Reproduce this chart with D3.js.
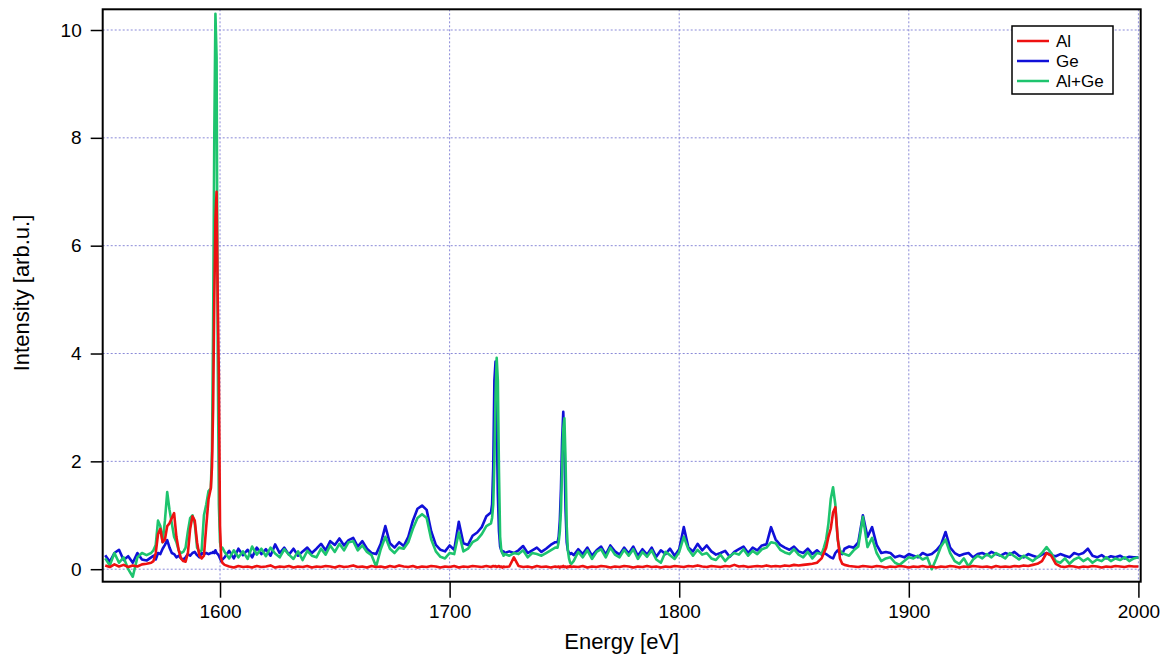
<!DOCTYPE html>
<html><head><meta charset="utf-8">
<script src="https://cdn.jsdelivr.net/npm/d3@7"></script>
<style>body{margin:0;background:#fff} svg{display:block}</style>
</head><body><svg id="c" width="1167" height="657"></svg>
<script>
// ---------------- DATA ----------------
const energy = [
  // S1
  1550,1552,1554,1556,1558,1560,1562,1564,1566,1568,
  // S2
  1570,1571,1572,1573,1574,1575,1576,1577,1578,1579,1580,1581,1582,1583,1584,1585,1586,1587,1588,1589,1590,1591,1592,1593,1594,1595,
  // S3
  1596,1596.5,1597,1597.5,1598,1598.5,1599,1599.5,1600,1600.5,1601,
  // S4
  1602,1604,1606,1608,1610,1612,1614,1616,1618,1620,
  1622,1624,1626,1628,1630,1632,1634,1636,1638,1640,
  1642,1644,1646,1648,1650,1652,1654,1656,1658,1660,
  1662,1664,1666,1668,1670,1672,1674,1676,1678,1680,
  1682,1684,1686,1688,1690,1692,1694,1696,1698,1700,
  1702,1704,1706,1708,1710,1712,1714,1716,
  // S5
  1718,1718.5,1719,1719.5,1720,1720.5,1721,1721.5,1722,1722.5,1723,1723.5,1724,
  // S6
  1726,1728,1730,1732,1734,1736,1738,1740,1742,1744,1746,
  // S7
  1747,1747.5,1748,1748.5,1749,1749.5,1750,1750.5,1751,1751.5,1752,1752.5,1753,
  // S8
  1754,1756,1758,1760,1762,1764,1766,1768,1770,1772,
  1774,1776,1778,1780,1782,1784,1786,1788,1790,1792,
  1794,1796,1798,1800,1802,1804,1806,1808,1810,1812,
  1814,1816,1818,1820,1822,1824,1826,1828,1830,1832,
  1834,1836,1838,1840,1842,1844,1846,1848,1850,1852,
  1854,1856,1858,1860,1862,
  // S9
  1863,1864,1865,1866,1867,1868,1869,1870,1871,
  // S10
  1872,1874,1876,1878,1880,1882,1884,1886,1888,1890,
  1892,1894,1896,1898,1900,1902,1904,1906,1908,1910,
  1912,1914,1916,1918,1920,1922,1924,1926,1928,1930,
  1932,1934,1936,1938,1940,1942,1944,1946,1948,1950,
  1952,1954,1956,1958,1960,1962,1964,1966,1968,1970,
  1972,1974,1976,1978,1980,1982,1984,1986,1988,1990,
  1992,1994,1996,1998,2000
];

const intensityAl = [
  // S1
  0.07,0.04,0.09,0.05,0.08,0.04,0.07,0.05,0.09,0.10,
  // S2
  0.12,0.15,0.30,0.65,0.75,0.50,0.55,0.80,0.85,0.95, 1.04,0.60,0.35,0.20,0.15,0.14,0.30,0.75,0.98,0.90, 0.50,0.25,0.20,0.25,0.80,1.30,
  // S3
  1.50,1.90,3.00,5.00,6.50,7.00,5.00,3.60,0.80,0.20,0.12,
  // S4
  0.08,0.05,0.03,0.06,0.04,0.05,0.03,0.06,0.04,0.05,
  0.07,0.03,0.05,0.04,0.06,0.03,0.05,0.04,0.06,0.03,
  0.05,0.04,0.06,0.05,0.03,0.06,0.04,0.05,0.07,0.04,
  0.05,0.03,0.06,0.04,0.05,0.03,0.06,0.04,0.07,0.05,
  0.04,0.06,0.03,0.05,0.04,0.06,0.05,0.03,0.05,0.04,
  0.06,0.03,0.05,0.04,0.06,0.05,0.04,0.06,
  // S5
  0.04,0.05,0.06,0.05,0.06,0.04,0.05,0.06,0.04,0.05,0.03,0.05,0.04,
  // S6
  0.05,0.22,0.06,0.04,0.05,0.03,0.06,0.04,0.05,0.03,0.05,
  // S7
  0.04,0.05,0.03,0.05,0.04,0.06,0.04,0.05,0.03,0.05,0.04,0.06,0.04,
  // S8
  0.05,0.04,0.06,0.03,0.05,0.04,0.06,0.05,0.03,0.05,
  0.04,0.06,0.05,0.03,0.05,0.04,0.06,0.04,0.05,0.03,
  0.05,0.04,0.06,0.05,0.04,0.06,0.05,0.07,0.05,0.04,
  0.06,0.05,0.04,0.06,0.05,0.08,0.05,0.06,0.04,0.05,
  0.06,0.05,0.07,0.05,0.06,0.05,0.07,0.06,0.08,0.07,
  0.08,0.09,0.10,0.12,0.20,
  // S9
  0.30,0.40,0.60,0.75,1.05,1.15,0.60,0.20,0.10,
  // S10
  0.08,0.06,0.05,0.04,0.06,0.05,0.04,0.06,0.05,0.03,
  0.05,0.04,0.06,0.05,0.03,0.05,0.04,0.06,0.04,0.05,
  0.03,0.05,0.04,0.06,0.05,0.03,0.05,0.04,0.06,0.05,
  0.04,0.05,0.03,0.06,0.04,0.05,0.04,0.06,0.05,0.07,
  0.06,0.08,0.10,0.15,0.30,0.25,0.10,0.05,0.04,0.06,
  0.05,0.03,0.05,0.04,0.06,0.05,0.03,0.05,0.04,0.06,
  0.05,0.04,0.06,0.05,0.05
];

const intensityGe = [
  // S1
  0.26,0.14,0.30,0.36,0.17,0.24,0.12,0.30,0.18,0.16,
  // S2
  0.22,0.25,0.18,0.30,0.28,0.38,0.45,0.54,0.40,0.30, 0.28,0.22,0.25,0.20,0.18,0.22,0.28,0.25,0.30,0.32, 0.26,0.22,0.30,0.28,0.30,0.28,
  // S3
  0.30,0.30,0.32,0.30,0.35,0.30,0.28,0.25,0.20,0.15,0.18,
  // S4
  0.22,0.34,0.20,0.38,0.26,0.36,0.22,0.40,0.28,0.37,
  0.25,0.46,0.30,0.40,0.27,0.38,0.25,0.33,0.40,0.30,
  0.38,0.47,0.35,0.52,0.45,0.57,0.44,0.54,0.58,0.42,
  0.52,0.38,0.30,0.28,0.47,0.80,0.48,0.40,0.50,0.43,
  0.60,0.90,1.12,1.18,1.10,0.70,0.45,0.36,0.33,0.44,
  0.36,0.88,0.48,0.45,0.62,0.68,0.78,0.98,
  // S5
  1.05,1.20,1.90,3.50,3.85,2.80,1.40,0.70,0.42,0.35,0.30,0.33,0.30,
  // S6
  0.33,0.30,0.35,0.43,0.30,0.35,0.40,0.32,0.38,0.45,0.50,
  // S7
  0.50,0.60,0.90,1.50,2.40,2.92,2.20,1.10,0.50,0.35,0.30,0.28,0.30,
  // S8
  0.26,0.37,0.28,0.40,0.25,0.35,0.42,0.27,0.44,0.33,
  0.27,0.40,0.29,0.42,0.25,0.37,0.27,0.40,0.23,0.35,
  0.28,0.38,0.25,0.37,0.78,0.40,0.33,0.47,0.35,0.44,
  0.33,0.27,0.30,0.34,0.23,0.32,0.37,0.42,0.30,0.40,
  0.35,0.44,0.46,0.78,0.55,0.45,0.40,0.36,0.42,0.33,
  0.30,0.38,0.28,0.35,0.27,
  // S9
  0.30,0.28,0.25,0.22,0.20,0.30,0.35,0.30,0.28,
  // S10
  0.38,0.42,0.40,0.50,1.00,0.60,0.78,0.45,0.30,0.32,
  0.30,0.22,0.25,0.22,0.28,0.25,0.22,0.30,0.26,0.28,
  0.35,0.45,0.69,0.40,0.30,0.25,0.28,0.30,0.22,0.28,
  0.30,0.26,0.32,0.28,0.25,0.30,0.27,0.32,0.25,0.22,
  0.28,0.25,0.22,0.27,0.30,0.26,0.24,0.28,0.25,0.22,
  0.30,0.27,0.30,0.38,0.25,0.22,0.26,0.20,0.24,0.22,
  0.25,0.20,0.23,0.22,0.22
];

const intensityAlGe = [
  // S1
  0.20,0.07,0.30,0.12,0.22,0.00,-0.14,0.22,0.30,0.26,
  // S2
  0.30,0.35,0.45,0.90,0.80,0.50,0.90,1.43,1.10,0.85, 0.60,0.50,0.35,0.30,0.32,0.40,0.70,0.95,1.00,0.85, 0.40,0.32,0.35,1.00,1.20,1.45,
  // S3
  1.50,2.20,4.50,8.00,10.30,9.50,4.00,1.20,0.50,0.38,0.40,
  // S4
  0.32,0.20,0.35,0.22,0.33,0.19,0.42,0.27,0.38,0.24,
  0.40,0.29,0.22,0.37,0.27,0.19,0.33,0.17,0.34,0.25,
  0.22,0.38,0.27,0.44,0.32,0.47,0.35,0.50,0.52,0.35,
  0.44,0.32,0.26,0.05,0.37,0.60,0.38,0.30,0.40,0.38,
  0.50,0.75,0.95,1.02,0.95,0.55,0.33,0.23,0.20,0.30,
  0.28,0.68,0.33,0.38,0.50,0.55,0.65,0.80,
  // S5
  0.85,0.95,1.20,2.00,3.20,3.92,3.50,1.80,0.60,0.35,0.30,0.25,0.28,
  // S6
  0.25,0.30,0.28,0.35,0.22,0.30,0.28,0.25,0.30,0.35,0.40,
  // S7
  0.40,0.50,0.70,1.10,1.90,2.60,2.80,2.00,0.80,0.35,0.20,0.12,0.10,
  // S8
  0.15,0.32,0.22,0.35,0.19,0.32,0.37,0.22,0.40,0.27,
  0.22,0.36,0.25,0.37,0.19,0.32,0.23,0.35,0.18,0.12,
  0.32,0.26,0.19,0.32,0.60,0.37,0.25,0.36,0.27,0.30,
  0.20,0.17,0.27,0.15,0.24,0.30,0.27,0.37,0.25,0.34,
  0.28,0.37,0.40,0.50,0.48,0.36,0.31,0.28,0.37,0.27,
  0.22,0.32,0.20,0.30,0.28,
  // S9
  0.40,0.55,0.85,1.30,1.52,1.20,0.55,0.35,0.30,
  // S10
  0.28,0.25,0.35,0.42,0.97,0.41,0.58,0.30,0.15,0.20,
  0.22,0.12,0.08,0.15,0.22,0.20,0.25,0.18,0.22,0.00,
  0.20,0.42,0.55,0.30,0.15,0.10,0.20,0.05,0.18,0.25,
  0.20,0.28,0.22,0.30,0.25,0.20,0.30,0.24,0.18,0.25,
  0.20,0.15,0.22,0.30,0.41,0.30,0.15,0.12,0.20,0.10,
  0.18,0.22,0.15,0.20,0.12,0.18,0.15,0.22,0.15,0.20,
  0.17,0.22,0.15,0.20,0.22
];

const seriesNames = ["Al", "Ge", "Al+Ge"];
const seriesColors = ["#ee1111", "#1010d8", "#1ec46e"];
const xTicks = [1600, 1700, 1800, 1900, 2000];
const yTicks = [0, 2, 4, 6, 8, 10];
const xTitle = "Energy [eV]";
const yTitle = "Intensity [arb.u.]";

// ---------------- CHART ----------------
const FONT = "'Liberation Sans', Arial, sans-serif";
const svg = d3.select("#c");
const L = 102.7, R = 1140.7, T = 9.3, B = 581.7;

const x = d3.scaleLinear().domain([1548.9, 2001]).range([L, R]);
const y = d3.scaleLinear().domain([-0.232, 10.384]).range([B, T]);

[intensityAl, intensityGe, intensityAlGe].forEach((a, i) => {
  if (a.length !== energy.length) console.error("length mismatch", seriesNames[i], a.length, energy.length);
});

svg.append("rect").attr("width", 1167).attr("height", 657).attr("fill", "#fff");

// grid
const grid = svg.append("g");
grid.selectAll(".gx").data(xTicks).join("line")
  .attr("x1", d => x(d)).attr("x2", d => x(d)).attr("y1", T).attr("y2", B)
  .attr("stroke", "#8a8ad8").attr("stroke-width", 1).attr("stroke-dasharray", "2,2");
grid.selectAll(".gy").data(yTicks).join("line")
  .attr("y1", d => y(d)).attr("y2", d => y(d)).attr("x1", L).attr("x2", R)
  .attr("stroke", "#8a8ad8").attr("stroke-width", 1).attr("stroke-dasharray", "2,2");

// lines
svg.append("defs").append("clipPath").attr("id", "clip")
  .append("rect").attr("x", L).attr("y", T).attr("width", R - L).attr("height", B - T);

const seriesData = [intensityAl, intensityGe, intensityAlGe];
const lineGen = d3.line().x(d => x(d[0])).y(d => y(d[1]));
const drawOrder = [1, 2, 0];
const lines = svg.append("g").attr("clip-path", "url(#clip)");
drawOrder.forEach(i => {
  const pts = energy.map((e, k) => [e, seriesData[i][k]]).filter(p => p[1] !== undefined);
  lines.append("path").datum(pts)
    .attr("d", lineGen)
    .attr("fill", "none")
    .attr("stroke", seriesColors[i])
    .attr("stroke-width", 2.6)
    .attr("stroke-linejoin", "round");
});

// frame
svg.append("rect").attr("x", L).attr("y", T).attr("width", R - L).attr("height", B - T)
  .attr("fill", "none").attr("stroke", "#000").attr("stroke-width", 2);

// axes
const xAxis = svg.append("g").attr("transform", `translate(0,${B})`)
  .call(d3.axisBottom(x).tickValues(xTicks).tickSize(16).tickPadding(7).tickFormat(d3.format("d")));
const yAxis = svg.append("g").attr("transform", `translate(${L},0)`)
  .call(d3.axisLeft(y).tickValues(yTicks).tickSize(12).tickPadding(9).tickFormat(d3.format("d")));
[xAxis, yAxis].forEach(a => {
  a.select(".domain").remove();
  a.selectAll("line").attr("stroke", "#000").attr("stroke-width", 1.5);
  a.selectAll("text").attr("font-family", FONT).attr("font-size", 19).attr("fill", "#000");
});

// titles
svg.append("text").attr("x", (L + R) / 2).attr("y", 649).attr("text-anchor", "middle")
  .attr("font-family", FONT).attr("font-size", 22).attr("fill", "#000").text(xTitle);
svg.append("text").attr("transform", "translate(29,293) rotate(-90)").attr("text-anchor", "middle")
  .attr("font-family", FONT).attr("font-size", 22).attr("fill", "#000").text(yTitle);

// legend
const lg = svg.append("g");
lg.append("rect").attr("x", 1012).attr("y", 26).attr("width", 101).attr("height", 68)
  .attr("fill", "#fff").attr("stroke", "#000").attr("stroke-width", 1.5);
seriesNames.forEach((n, i) => {
  const cy = 41 + i * 20;
  lg.append("line").attr("x1", 1017).attr("x2", 1049).attr("y1", cy).attr("y2", cy)
    .attr("stroke", seriesColors[i]).attr("stroke-width", 2.5);
  lg.append("text").attr("x", 1056).attr("y", cy).attr("dy", "0.35em")
    .attr("font-family", FONT).attr("font-size", 17).attr("fill", "#000").text(n);
});
</script>
</body></html>
